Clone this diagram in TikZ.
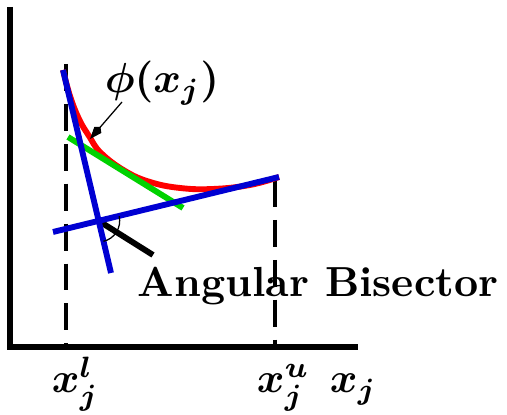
\documentclass[tikz,border=0pt]{standalone}
\usepackage{tikz}
\usetikzlibrary{arrows.meta}

\definecolor{tanblue}{RGB}{0,0,210}
\definecolor{tangreen}{RGB}{0,210,0}

\tikzset{
  axisline/.style={line width=1.4pt},
  boundline/.style={line width=0.95pt, dash pattern=on 6.4pt off 3.1pt},
  funcline/.style={red, line width=1.4pt},
  tanline/.style={tanblue, line width=1.4pt},
  midline/.style={tangreen, line width=1.4pt},
  bisline/.style={line width=1.4pt},
  lbl/.style={inner sep=0pt, font=\boldmath}
}

\begin{document}
\begin{tikzpicture}[x=0.238pt, y=-0.238pt]
\useasboundingbox (0,0) rectangle (507,415);
\coordinate (ctop) at (63,70);
\coordinate (cend) at (279,177);
\coordinate (steep) at (111,273);
\coordinate (flat) at (53,232);
\coordinate (isect) at (intersection of ctop--steep and flat--cend);
\draw[axisline] (10,7) -- (10,347) -- (358,347);
\draw[boundline] (66,64) -- (66,347);
\draw[boundline] (275,180) -- (275,347);
\draw[funcline] plot[smooth, tension=0.7] coordinates {(ctop) (70,96) (79,119) (89,136) (101,153) (125,171) (150,182) (180,188) (213,189) (250,185) (cend)};
\draw[midline] (68,137) -- (183,208);
\draw[bisline] (isect) -- (153,255);
\draw[tanline] (ctop) -- (steep);
\draw[tanline] (flat) -- (cend);
\draw[line width=0.3pt] (isect) ++(-13:21) arc[start angle=-13, end angle=77, radius=21];
\node[lbl, anchor=base] (phi) at (162,93) {$\phi(x_j)$};
\draw[line width=0.3pt, -{Kite[length=3.8pt, width=2.2pt]}] (122,102) -- (90,139);
\node[lbl, anchor=base west] (bis) at (137,297) {\textbf{Angular Bisector}};
\node[lbl, anchor=base west] (xl) at (51,393) {$x_j^l$};
\node[lbl, anchor=base west] (xu) at (256,393) {$x_j^u$};
\node[lbl, anchor=base west] (xj) at (329,393) {$x_j$};
\end{tikzpicture}
\end{document}
